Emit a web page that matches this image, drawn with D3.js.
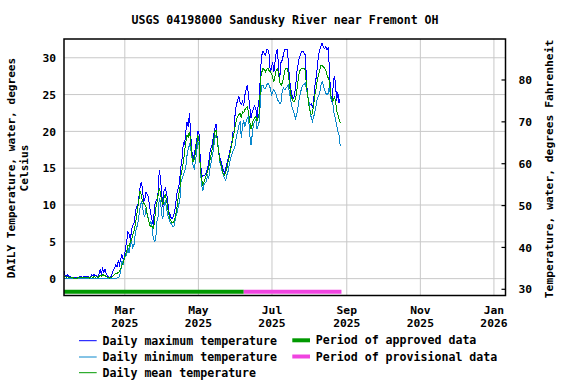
<!DOCTYPE html>
<html><head><meta charset="utf-8">
<script src="https://cdn.jsdelivr.net/npm/d3@7"></script>
<style>
body{margin:0;background:#fff}
text{font-family:"DejaVu Sans Mono","Liberation Mono",monospace;font-weight:bold;fill:#000}
</style>
</head><body>
<svg id="chart" width="576" height="384"></svg>
<script>
// ---------------- DATA ----------------
const title = "USGS 04198000 Sandusky River near Fremont OH";
const startDate = "2025-01-10"; // first daily value

const maxTemp = [
0.9,0.3,0.2,0.5,0.2,0.2,0.1,0.1,0.1,0.1,
0.1,0.1,0.1,0.2,0.2,0.1,0.2,0.2,0.2,0.2,
0.2,0.1,0.2,0.5,0.3,0.5,0.3,0.4,0.2,0.6,
1.1,0.5,1.3,0.8,1.2,0.6,0.3,0.2,0.1,0.2,
0.6,1.1,1.4,1.8,1.5,2.3,1.8,2.6,3.2,2.6,
2.8,4.1,5.0,6.3,6.0,5.2,6.5,7.2,7.5,8.6,
9.7,9.5,10.9,12.2,13.1,12.2,10.4,10.8,11.7,11.4,
11.0,9.7,8.6,7.9,7.2,9.7,10.4,10.6,11.7,14.7,
13.6,11.4,9.7,12.0,12.2,11.6,10.4,9.0,8.6,8.1,
8.1,8.5,9.3,10.7,12.0,12.2,13.6,15.2,16.3,18.5,
18.1,20.0,21.2,20.6,22.4,19.5,17.3,16.0,16.9,17.8,
18.7,20.0,19.5,16.0,14.2,13.8,14.0,14.0,14.4,14.9,
15.8,17.1,17.8,18.2,19.5,20.2,20.9,19.0,17.5,16.4,
16.0,15.3,14.7,14.2,14.9,15.6,16.2,16.9,17.8,18.2,
19.8,20.0,22.7,23.6,24.2,24.7,23.8,23.6,24.0,23.4,
24.9,25.6,26.2,24.8,23.3,21.8,22.5,23.0,23.4,23.0,
21.8,23.5,24.6,28.5,30.3,30.8,30.5,30.3,31.0,31.0,
30.4,28.0,28.5,29.4,28.0,29.5,30.8,31.0,28.0,27.4,
29.5,29.6,30.5,31.0,31.0,31.0,29.4,26.8,25.8,24.8,
24.4,24.7,26.0,28.0,29.0,29.9,30.3,30.8,30.8,30.6,
30.3,27.0,24.6,24.0,23.5,23.7,23.1,24.2,26.2,27.2,
28.6,30.3,31.0,31.5,31.9,31.4,31.2,31.4,31.0,31.2,
28.5,24.9,24.0,25.8,27.4,26.7,24.0,25.3,23.8,24.4
];

const minTemp = [
0,0,0,0,0,0,0,0,0,0,
0,0,0,0,0,0,0,0,0,0,
0,0,0,0,0,0,0,0,0,0,
0,0,0,0,0,0,0,0,0,0,
0,0,0,0,0,0.1,0.2,0.9,2.3,1.8,
2.9,3.0,3.2,4.1,3.4,4.6,5.0,4.1,4.5,5.9,
6.8,7.2,8.4,9.5,10.4,10.0,8.6,8.4,9.5,8.6,
8.1,7.2,7.7,7.0,5.4,5.0,5.2,7.7,8.4,10.9,
10.4,8.6,8.1,10.0,10.4,9.5,8.6,8.1,7.5,7.4,
7.0,7.0,7.7,8.6,9.0,10.0,10.4,13.1,13.6,14.0,
14.5,15.1,16.7,17.6,18.1,17.6,16.5,15.3,14.9,15.8,
17.2,18.5,18.1,14.9,12.7,11.8,12.7,12.9,13.1,14.0,
13.6,14.9,15.8,16.7,17.6,19.0,19.4,19.0,17.6,15.8,
15.4,14.5,14.0,13.6,13.3,14.0,14.5,15.4,16.3,16.7,
17.2,17.6,18.1,19.4,19.9,20.8,21.3,19.0,20.8,21.3,
20.6,21.3,21.7,21.9,19.4,18.1,19.4,20.8,21.3,21.5,
20.3,20.8,21.3,24.9,26.2,26.2,25.8,25.8,26.2,26.5,
26.2,25.8,24.9,25.3,25.6,25.3,24.9,24.2,24.0,23.7,
24.0,25.6,25.8,25.6,25.8,26.0,26.2,25.1,24.0,23.3,
22.8,22.2,21.7,22.2,23.3,24.4,25.2,25.8,26.2,26.3,
26.5,25.6,24.9,24.0,22.8,21.7,21.3,21.9,22.6,23.5,
24.4,24.7,25.1,26.2,26.7,26.2,25.6,25.1,24.9,25.1,
26.2,24.4,24.2,23.5,22.2,21.7,20.8,19.9,19.4,17.9
];

const meanTemp = [
0.3,0.2,0.1,0.2,0.1,0.1,0.1,0.1,0.0,0.0,
0.0,0.0,0.1,0.1,0.1,0.1,0.1,0.1,0.1,0.1,
0.1,0.0,0.1,0.2,0.1,0.2,0.1,0.2,0.1,0.2,
0.4,0.2,0.5,0.4,0.4,0.2,0.1,0.1,0.0,0.1,
0.2,0.4,0.5,0.7,0.6,0.8,0.9,1.3,1.8,2.1,
2.6,3.2,3.6,4.5,4.3,5.0,5.2,5.9,6.3,7.2,
8.2,9.5,10.5,11.8,11.3,10.4,10.2,10.0,9.6,8.6,
8.0,7.2,7.0,7.0,6.8,7.5,9.5,10.2,11.3,12.2,
11.5,10.4,10.0,11.0,11.3,10.6,9.5,8.6,8.0,7.6,
7.5,7.6,8.2,9.0,10.0,11.3,12.0,14.0,14.8,15.8,
17.2,18.5,19.4,19.2,19.9,18.5,16.7,15.8,16.2,17.0,
18.1,19.4,18.6,14.9,13.5,12.7,13.0,13.5,14.0,14.4,
15.0,16.0,16.8,17.6,18.5,19.9,20.1,18.9,17.2,16.2,
15.4,14.8,14.2,14.0,14.4,14.9,15.8,16.5,17.3,18.1,
19.0,19.8,20.8,21.5,22.0,22.2,22.4,21.8,22.6,22.5,
22.9,23.1,23.3,22.4,21.3,20.3,20.8,21.5,21.7,22.0,
21.3,21.8,22.6,27.1,28.0,28.5,28.3,28.0,28.4,28.5,
28.2,28.0,27.8,27.2,26.7,27.5,28.3,28.5,27.6,26.5,
26.2,26.5,27.2,28.2,28.5,28.5,27.8,26.2,24.9,24.4,
24.0,24.0,24.4,25.5,26.8,28.0,28.3,28.5,28.5,28.5,
28.2,26.2,24.8,23.5,22.6,22.2,22.4,23.6,24.9,25.8,
27.0,27.6,28.3,28.9,28.9,28.7,28.5,28.2,27.6,27.2,
26.8,24.9,24.4,24.0,24.6,24.2,22.8,22.2,21.6,21.1
];

const yTicksC = [0, 5, 10, 15, 20, 25, 30];
const yTicksF = [30, 40, 50, 60, 70, 80];
const xTickDates = ["2025-03-01","2025-05-01","2025-07-01","2025-09-01","2025-11-01","2026-01-01"];
const xTickMonths = ["Mar","May","Jul","Sep","Nov","Jan"];
const xTickYears = ["2025","2025","2025","2025","2025","2026"];
const periodNames = ["approved", "provisional"];
const periodStarts = ["2025-01-10", "2025-06-08"];
const periodEnds = ["2025-06-08", "2025-08-28"];

// ---------------- LAYOUT ----------------
const parse = d3.timeParse("%Y-%m-%d");
const L = 64, R = 505.5, T = 39, B = 295.5;
const colors = {max:"#0000ff", min:"#0a88cc", mean:"#009a00", approved:"#009900", provisional:"#f044e0"};
const svg = d3.select("#chart");

const x = d3.scaleTime().domain([parse("2025-01-10"), parse("2026-01-11")]).range([L, R]);
const y = d3.scaleLinear().domain([-2.36, 32.48]).range([B, T]);
const yF = d3.scaleLinear().domain([28.4, 89.67]).range([B, T]);

const start = parse(startDate);
const dates = maxTemp.map((_, i) => d3.timeDay.offset(start, i));

// gridlines
svg.append("g").attr("transform", `translate(${L},0)`)
  .call(d3.axisLeft(y).tickValues(yTicksC).tickSize(-(R - L)).tickFormat(""))
  .call(g => g.select(".domain").remove())
  .call(g => g.selectAll("line").attr("stroke", "#c8c8c8").attr("stroke-width", 1));
svg.append("g").attr("transform", `translate(0,${B})`)
  .call(d3.axisBottom(x).tickValues(xTickDates.map(parse)).tickSize(-(B - T)).tickFormat(""))
  .call(g => g.select(".domain").remove())
  .call(g => g.selectAll("line").attr("stroke", "#c8c8c8").attr("stroke-width", 1));

// series
svg.append("clipPath").attr("id", "clip").append("rect")
  .attr("x", L).attr("y", T).attr("width", R - L).attr("height", B - T);
const plot = svg.append("g").attr("clip-path", "url(#clip)");
const line = d3.line().x((d, i) => x(dates[i])).y(d => y(d));
[[maxTemp, colors.max], [minTemp, colors.min], [meanTemp, colors.mean]].forEach(([arr, c]) => {
  plot.append("path").datum(arr).attr("d", line)
    .attr("fill", "none").attr("stroke", c).attr("stroke-width", 1)
    .attr("shape-rendering", "crispEdges");
});

// period bars
const barY = y(-1.86);
periodNames.forEach((p, i) => {
  svg.append("line")
    .attr("x1", x(parse(periodStarts[i]))).attr("x2", x(parse(periodEnds[i])))
    .attr("y1", barY).attr("y2", barY)
    .attr("stroke", colors[p]).attr("stroke-width", 4);
});

// frame
svg.append("rect").attr("x", L).attr("y", T).attr("width", R - L).attr("height", B - T)
  .attr("fill", "none").attr("stroke", "#000").attr("stroke-width", 1.5);

// left axis labels
svg.append("g").attr("transform", `translate(${L},0)`)
  .call(d3.axisLeft(y).tickValues(yTicksC).tickSize(0).tickPadding(8))
  .call(g => g.select(".domain").remove())
  .call(g => g.selectAll("text").attr("font-size", "11.3px").attr("dy", "0.38em")
      .style("font-family", "DejaVu Sans Mono").style("font-weight", "bold"));

// right axis
svg.append("g").attr("transform", `translate(${R},0)`)
  .call(d3.axisRight(yF).tickValues(yTicksF).tickSize(-4).tickPadding(13))
  .call(g => g.select(".domain").remove())
  .call(g => g.selectAll("line").attr("stroke", "#000").attr("stroke-width", 1.2))
  .call(g => g.selectAll("text").attr("font-size", "11.3px").attr("dy", "0.36em")
      .style("font-family", "DejaVu Sans Mono").style("font-weight", "bold"));

// bottom labels (two lines)
const bx = svg.append("g").attr("transform", `translate(0,${B})`)
  .call(d3.axisBottom(x).tickValues(xTickDates.map(parse)).tickSize(0).tickFormat(""))
  .call(g => g.select(".domain").remove());
bx.selectAll(".tick").each(function(d, i) {
  const t = d3.select(this).select("text").attr("y", 0).attr("dy", null)
    .attr("font-size", "11.3px").style("font-family", "DejaVu Sans Mono").style("font-weight", "bold");
  t.append("tspan").attr("x", 0).attr("y", 18.8).text(xTickMonths[i]);
  t.append("tspan").attr("x", 0).attr("y", 31.2).text(xTickYears[i]);
});

// title
svg.append("text").attr("x", 285).attr("y", 24).attr("text-anchor", "middle")
  .attr("font-size", "11.6px").text(title);

// axis titles
const lt = svg.append("text").attr("transform", `translate(15,168) rotate(-90)`)
  .attr("text-anchor", "middle").attr("font-size", "11.1px");
lt.append("tspan").attr("x", 0).attr("y", 0).text("DAILY Temperature, water, degrees");
lt.append("tspan").attr("x", 0).attr("y", 13.3).text("Celsius");
svg.append("text").attr("transform", `translate(553,169) rotate(-90)`)
  .attr("text-anchor", "middle").attr("font-size", "11.3px")
  .text("Temperature, water, degrees Fahrenheit");

// legend
const legendItems = [
  {label:"Daily maximum temperature", color:colors.max, w:1, lx:79, ly:340.7},
  {label:"Daily minimum temperature", color:colors.min, w:1, lx:79, ly:357},
  {label:"Daily mean temperature", color:colors.mean, w:1, lx:79, ly:372.7},
  {label:"Period of approved data", color:colors.approved, w:4, lx:292.3, ly:340.3},
  {label:"Period of provisional data", color:colors.provisional, w:4, lx:292.3, ly:356.5}
];
const lg = svg.append("g");
legendItems.forEach(it => {
  lg.append("line").attr("x1", it.lx).attr("x2", it.lx + 17.7).attr("y1", it.ly).attr("y2", it.ly)
    .attr("stroke", it.color).attr("stroke-width", it.w);
  lg.append("text").attr("x", it.lx + 23.5).attr("y", Math.round(it.ly) + 4.3)
    .attr("font-size", "11.6px").text(it.label);
});
</script>
</body></html>
